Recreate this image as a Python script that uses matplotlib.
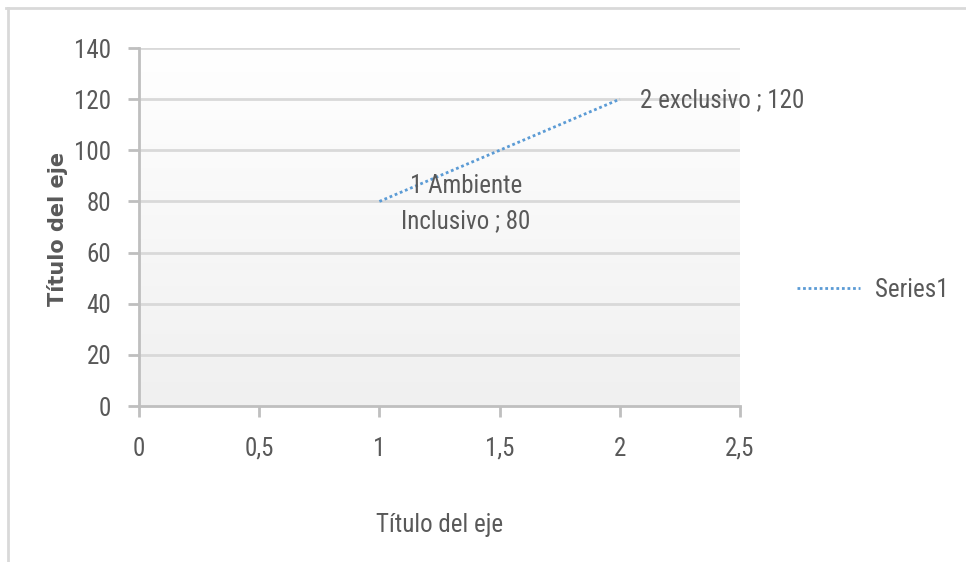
import matplotlib
matplotlib.use("Agg")
import matplotlib.pyplot as plt
import numpy as np
from matplotlib.lines import Line2D
from matplotlib.colors import LinearSegmentedColormap
from matplotlib import font_manager as fm

x_vals = [1, 2]
y_vals = [80, 120]
point_labels = ["1 Ambiente\nInclusivo ; 80", "2 exclusivo ; 120"]
series_name = "Series1"
x_ticks = [0, 0.5, 1, 1.5, 2, 2.5]
x_tick_labels = ["0", "0,5", "1", "1,5", "2", "2,5"]
y_ticks = [0, 20, 40, 60, 80, 100, 120, 140]
x_title = "Título del eje"
y_title = "Título del eje"

available = {f.name for f in fm.fontManager.ttflist}
cands = ["Roboto Condensed", "Open Sans Condensed", "Archivo Narrow", "Carlito", "Liberation Sans Narrow"]
FONT = [c for c in cands if c in available][:1] + ["DejaVu Sans"]
BOLD = ["DejaVu Sans"]

TXT = "#595959"
GRID = "#d9d9d9"
AXC = "#bfbfbf"
LINEC = "#5b9bd5"
FS = 18

fig = plt.figure(figsize=(9.66, 5.62), dpi=100)
fig.patch.set_facecolor("white")

fig.add_artist(Line2D([6/966, 1], [1-8/562, 1-8/562], color=GRID, lw=2, transform=fig.transFigure))
fig.add_artist(Line2D([8/966, 8/966], [0, 1-8/562], color=GRID, lw=2, transform=fig.transFigure))

ax = fig.add_axes([139/966, 1-406/562, (740-139)/966, (406-48)/562])

grad = np.linspace(0.0, 1.0, 256).reshape(-1, 1)
cmap = LinearSegmentedColormap.from_list("g", ["#f0f0f0", "#ffffff"])
ax.imshow(grad, extent=[0, 2.5, 0, 140], aspect="auto", cmap=cmap, origin="lower",
          vmin=0, vmax=1, zorder=0)
ax.set_xlim(0, 2.5)
ax.set_ylim(0, 140)

for y in y_ticks[1:]:
    ax.axhline(y, color=GRID, lw=2, zorder=1)

ax.plot(x_vals, y_vals, color=LINEC, lw=2, linestyle=(0, (1, 1)), zorder=3, label=series_name)

ax.text(1.36, 79.2, point_labels[0], ha="center", va="center", fontsize=FS, color=TXT,
        family=FONT, linespacing=1.6, zorder=4)
ax.text(2.084, 119.7, point_labels[1], ha="left", va="center", fontsize=FS, color=TXT,
        family=FONT, zorder=4)

for s in ["top", "right"]:
    ax.spines[s].set_visible(False)
for s in ["left", "bottom"]:
    ax.spines[s].set_color(AXC)
    ax.spines[s].set_linewidth(2)

ax.set_xticks(x_ticks)
ax.set_xticklabels(x_tick_labels)
ax.set_yticks(y_ticks)
ax.tick_params(axis="both", colors=AXC, width=2, length=8, labelcolor=TXT, labelsize=FS)
ax.tick_params(axis="x", pad=14)
ax.tick_params(axis="y", pad=12)
for lab in ax.get_xticklabels() + ax.get_yticklabels():
    lab.set_family(FONT)

ax.set_xlabel(x_title, fontsize=FS, color=TXT, family=FONT, labelpad=38)
fig.text(58/966, 1-229/562, y_title, rotation=90, ha="center", va="center",
         fontsize=15, fontweight="bold", color=TXT, family=BOLD)

fig.legend(handles=[Line2D([], [], color=LINEC, lw=2, linestyle=(0, (1, 1)))],
           labels=[series_name], loc="center left", bbox_to_anchor=(797/966, 1-290/562),
           frameon=False, labelcolor=TXT, prop={"family": FONT, "size": FS},
           handlelength=2.5, handletextpad=0.6, borderpad=0, borderaxespad=0)

fig.savefig("out.png", dpi=100)
